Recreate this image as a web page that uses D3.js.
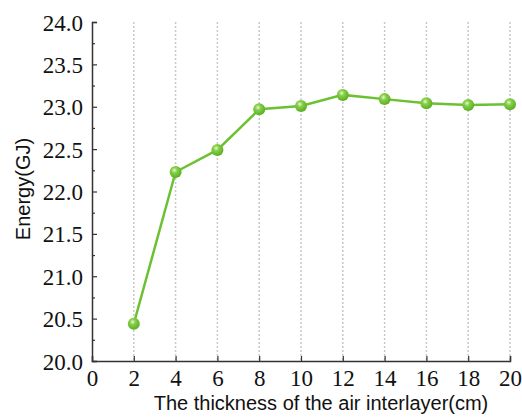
<!DOCTYPE html>
<html lang="en">
<head>
<meta charset="UTF-8">
<title>Energy vs air interlayer thickness</title>
<script src="https://d3js.org/d3.v7.min.js"></script>
<style>
  body { margin: 0; background: #fff; }
  .title { font-family: "Liberation Sans", Arial, sans-serif; font-size: 20px; fill: #111; }
</style>
</head>
<body>
<svg id="chart" width="522" height="420"></svg>
<script>
const thickness = [2, 4, 6, 8, 10, 12, 14, 16, 18, 20];
const energy = [20.44, 22.23, 22.49, 22.97, 23.01, 23.14, 23.09, 23.04, 23.02, 23.03];
const xTicks = [0, 2, 4, 6, 8, 10, 12, 14, 16, 18, 20];
const yTicks = [20.0, 20.5, 21.0, 21.5, 22.0, 22.5, 23.0, 23.5, 24.0];

const svg = d3.select('#chart');
const m = { left: 92, right: 510, top: 22, bottom: 361 };
const serif = '"Liberation Serif", "Times New Roman", serif';

const x = d3.scaleLinear().domain([0, 20]).range([m.left, m.right]);
const y = d3.scaleLinear().domain([20, 24]).range([m.bottom, m.top]);

// gradient for shiny markers
const grad = svg.append('defs').append('radialGradient')
    .attr('id', 'ball').attr('cx', '40%').attr('cy', '35%').attr('r', '65%');
grad.append('stop').attr('offset', '0%').attr('stop-color', '#e8f8d8');
grad.append('stop').attr('offset', '35%').attr('stop-color', '#86d048');
grad.append('stop').attr('offset', '100%').attr('stop-color', '#5aae22');

// dotted vertical grid
svg.append('g')
    .selectAll('line')
    .data(xTicks.filter(d => d > 0))
    .join('line')
    .attr('x1', d => x(d)).attr('x2', d => x(d))
    .attr('y1', m.top).attr('y2', m.bottom)
    .attr('stroke', '#c8c8c8').attr('stroke-width', 1.5)
    .attr('stroke-dasharray', '2,2');

// y axis: major + minor ticks pointing inward
const yAxis = d3.axisLeft(y).tickValues(yTicks).tickSize(-5).tickFormat(d3.format('.1f'));
const yG = svg.append('g').attr('transform', `translate(${m.left},0)`).call(yAxis)
    .attr('font-family', serif).attr('font-size', 23);
yG.select('.domain').attr('stroke', '#333').attr('stroke-width', 1.5);
yG.selectAll('.tick line').attr('stroke', '#333').attr('stroke-width', 1.2);
yG.selectAll('.tick text').attr('fill', '#111').attr('x', -9).attr('dy', '0.35em');
const yMinor = d3.axisLeft(y).tickValues(d3.range(20.25, 24, 0.5)).tickSize(-3).tickFormat('');
const yMG = svg.append('g').attr('transform', `translate(${m.left},0)`).call(yMinor);
yMG.select('.domain').remove();
yMG.selectAll('.tick line').attr('stroke', '#333').attr('stroke-width', 1.2);

// x axis
const xAxis = d3.axisBottom(x).tickValues(xTicks).tickSize(-5).tickFormat(d3.format('d'));
const xG = svg.append('g').attr('transform', `translate(0,${m.bottom})`).call(xAxis)
    .attr('font-family', serif).attr('font-size', 23);
xG.select('.domain').attr('stroke', '#333').attr('stroke-width', 1.5);
xG.selectAll('.tick line').attr('stroke', '#333').attr('stroke-width', 1.2);
xG.selectAll('.tick text').attr('fill', '#111').attr('y', 9).attr('dy', '0.71em');

// line
const pts = thickness.map((t, i) => [t, energy[i]]);
svg.append('path')
    .datum(pts)
    .attr('fill', 'none')
    .attr('stroke', '#6cc133')
    .attr('stroke-width', 2.5)
    .attr('d', d3.line().x(d => x(d[0])).y(d => y(d[1])));

svg.append('g')
    .selectAll('circle')
    .data(pts)
    .join('circle')
    .attr('cx', d => x(d[0]))
    .attr('cy', d => y(d[1]))
    .attr('r', 6)
    .attr('fill', 'url(#ball)');

// titles
svg.append('text').attr('class', 'title')
    .attr('x', 321).attr('y', 410).attr('text-anchor', 'middle')
    .text('The thickness of the air interlayer(cm)');
svg.append('text').attr('class', 'title')
    .attr('transform', 'translate(30,189) rotate(-90)').attr('text-anchor', 'middle')
    .text('Energy(GJ)');
</script>
</body>
</html>
